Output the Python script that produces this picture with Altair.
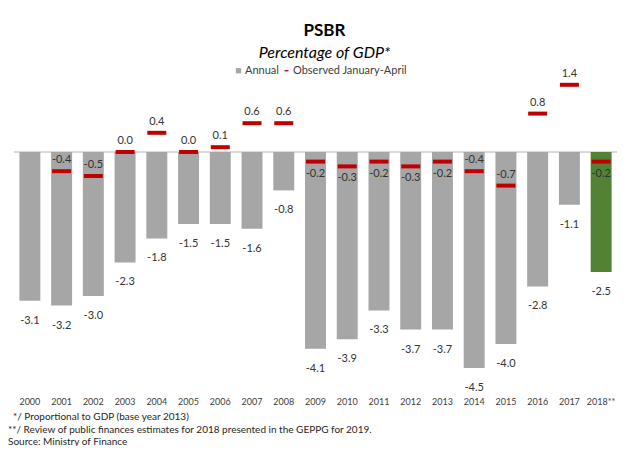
import altair as alt
import pandas as pd

years = ["2000", "2001", "2002", "2003", "2004", "2005", "2006", "2007", "2008", "2009",
         "2010", "2011", "2012", "2013", "2014", "2015", "2016", "2017", "2018**"]
annual = [-3.1, -3.2, -3.0, -2.3, -1.8, -1.5, -1.5, -1.6, -0.8, -4.1,
          -3.9, -3.3, -3.7, -3.7, -4.5, -4.0, -2.8, -1.1, -2.5]
observed = [None, -0.4, -0.5, 0.0, 0.4, 0.0, 0.1, 0.6, 0.6, -0.2,
            -0.3, -0.2, -0.3, -0.2, -0.4, -0.7, 0.8, 1.4, -0.2]
bar_series = ["Annual"] * 18 + ["Estimate 2018"]
obs_label_below = ["2009", "2010", "2011", "2012", "2013", "2018**"]

series_domain = ["Annual", "Observed January-April", "Estimate 2018"]
series_colors = ["#A6A6A6", "#C00000", "#548235"]

footnotes = [
    "*/ Proportional to GDP (base year 2013)",
    "**/ Review of public finances estimates for 2018 presented in the GEPPG for 2019.",
    "Source: Ministry of Finance",
]
note_indent = [5, 0, 0]

df = pd.DataFrame({
    "year": years,
    "annual": annual,
    "observed": observed,
    "bar_series": bar_series,
})
df["obs_series"] = "Observed January-April"
df["annual_label"] = [f"{v:.1f}" for v in annual]
df["obs_label"] = [f"{v:.1f}" if v is not None else "" for v in observed]
df["obs_pos"] = ["none" if v is None else ("below" if y in obs_label_below else "above")
                 for y, v in zip(years, observed)]

FONT = "Lato"
color_scale = alt.Scale(domain=series_domain, range=series_colors)
legend = alt.Legend(
    orient="none", legendX=219, legendY=-15, direction="horizontal",
    values=series_domain[:2], title=None,
    labelFont=FONT, labelFontSize=11, labelColor="#404040",
    symbolSize=28, labelOffset=1, columnPadding=2, symbolStrokeWidth=0,
    symbolType={"expr": "datum.value === 'Annual' ? 'square' : 'M-0.75,-0.25L0.75,-0.25L0.75,0.25L-0.75,0.25Z'"},
)

x = alt.X("year:N", sort=years,
          scale=alt.Scale(paddingInner=0.34, paddingOuter=0.17),
          axis=alt.Axis(title=None, labelAngle=0, ticks=False, domain=False, grid=False,
                        labelFont=FONT, labelFontSize=9, labelColor="#404040",
                        labelPadding=5))
yscale = alt.Scale(domain=[-5, 1.5], nice=False, zero=False)

base = alt.Chart(df)

zero_rule = alt.Chart(pd.DataFrame({"z": [0]})).mark_rule(
    color="#D9D9D9", strokeWidth=2).encode(y=alt.Y("z:Q", scale=yscale, axis=None))

bars = base.mark_bar().encode(
    x=x,
    y=alt.Y("annual:Q", scale=yscale, axis=None),
    color=alt.Color("bar_series:N", scale=color_scale, legend=legend),
)

bar_labels = base.mark_text(font=FONT, fontSize=11, color="#333333",
                            baseline="middle", dy=20).encode(
    x=x, y=alt.Y("annual:Q", scale=yscale, axis=None), text="annual_label:N")

ticks = base.transform_filter("isValid(datum.observed)").mark_tick(
    thickness=4, size=19, opacity=1).encode(
    x=x,
    y=alt.Y("observed:Q", scale=yscale, axis=None),
    color=alt.Color("obs_series:N", scale=color_scale, legend=legend),
)

obs_above = base.transform_filter("datum.obs_pos === 'above'").mark_text(
    font=FONT, fontSize=11, color="#333333", baseline="middle", dy=-11).encode(
    x=x, y=alt.Y("observed:Q", scale=yscale, axis=None), text="obs_label:N")

obs_below = base.transform_filter("datum.obs_pos === 'below'").mark_text(
    font=FONT, fontSize=11, color="#333333", baseline="middle", dy=12).encode(
    x=x, y=alt.Y("observed:Q", scale=yscale, axis=None), text="obs_label:N")

notes = []
for i, line in enumerate(footnotes):
    notes.append(
        alt.Chart(pd.DataFrame({"t": [line]})).mark_text(
            font=FONT, fontSize=10, color="#262626", align="left", baseline="middle"
        ).encode(x=alt.value(-6 + note_indent[i]), y=alt.value(337 + 12.5 * i), text="t:N")
    )

chart = alt.layer(zero_rule, bars, ticks, bar_labels, obs_above, obs_below, *notes).properties(
    width=603, height=312,
    autosize=alt.AutoSizeParams(type="none"),
    padding={"left": 6, "top": 72, "right": 4, "bottom": 54},
    view=alt.ViewBackground(stroke="transparent", strokeWidth=0),
    title=alt.TitleParams(
        "PSBR", subtitle="Percentage of GDP*", anchor="middle", dx=9, offset=3,
        font=FONT, fontSize=17, fontWeight="bold", color="black",
        subtitleFont=FONT, subtitleFontSize=16, subtitleFontStyle="italic",
        subtitleColor="black", subtitlePadding=5,
    ),
).resolve_scale(color="shared").configure_view(
    strokeWidth=0, stroke="transparent"
).configure_axis(grid=False).configure(background="white")

chart.save("out.html", embed_options={"renderer": "svg", "actions": False})
